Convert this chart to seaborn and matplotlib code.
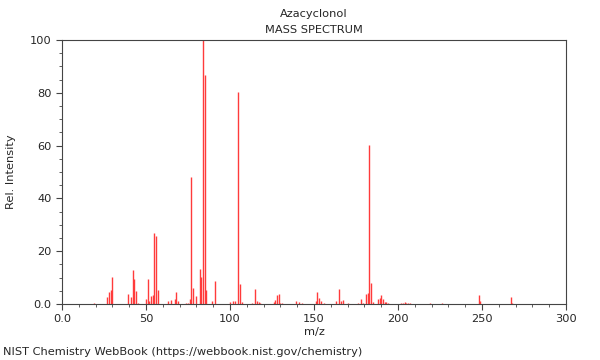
import matplotlib
matplotlib.use("Agg")
import matplotlib.pyplot as plt
import seaborn as sns
import numpy as np
from matplotlib.ticker import MultipleLocator

compound = "Azacyclonol"

# m/z values and relative intensities
mz = [19, 27, 28, 29, 30, 39, 41, 42, 43, 44, 45,
      50, 51, 52, 53, 54, 55, 56, 57, 63, 65, 67, 68, 69,
      74, 75, 76, 77, 78, 80, 82, 83, 84, 85, 86, 89, 91,
      100, 102, 103, 105, 106, 107, 113, 115, 116, 117, 118,
      126, 127, 128, 129, 130, 131, 139, 141, 143,
      151, 152, 153, 154, 156, 163, 165, 166, 167, 170, 176,
      178, 179, 181, 182, 183, 184, 185, 188, 189, 190, 191,
      192, 193, 194, 202, 203, 204, 205, 206, 207, 219, 226,
      248, 249, 267, 268]
intensity = [0.5, 2.5, 4.7, 5.3, 10.1, 3.8, 2.5, 12.8, 9.6, 5.0, 0.5,
             2.0, 9.3, 1.2, 3.0, 3.3, 27.0, 25.7, 5.3, 1.3, 1.5, 2.0, 4.6, 1.0,
             0.4, 0.5, 2.0, 48.0, 6.2, 2.9, 13.3, 10.4, 100.0, 86.8, 5.4, 1.0, 8.8,
             0.8, 1.2, 1.0, 80.3, 7.6, 0.6, 0.3, 5.7, 1.0, 0.8, 0.3,
             0.7, 1.6, 3.4, 3.8, 0.5, 0.3, 1.2, 0.6, 0.4,
             1.2, 4.7, 2.2, 1.0, 0.4, 1.0, 5.7, 1.0, 1.4, 0.5, 0.4,
             1.8, 0.5, 3.8, 4.0, 60.3, 7.8, 0.6, 1.7, 2.3, 3.4, 1.9,
             0.8, 0.6, 0.5, 0.5, 0.5, 0.6, 0.5, 0.4, 0.3, 0.3, 0.3,
             3.3, 1.3, 2.8, 0.4]

sns.set_style("ticks")
plt.rcParams['font.family'] = ['DejaVu Sans']
fs = 8.2

fig = plt.figure(figsize=(6, 3.6), dpi=100)
ax = fig.add_axes([0.1033, 0.1556, 0.84, 0.7333])

ax.vlines(mz, 0, intensity, color="#ff3b3b", linewidth=1.0)

ax.set_xlim(0, 300)
ax.set_ylim(0, 100)
ax.xaxis.set_minor_locator(MultipleLocator(10))
ax.yaxis.set_minor_locator(MultipleLocator(5))
ax.set_xticks([0, 50, 100, 150, 200, 250, 300])
ax.set_xticklabels(["0.0", "50", "100", "150", "200", "250", "300"])
ax.set_yticks([0, 20, 40, 60, 80, 100])
ax.set_yticklabels(["0.0", "20", "40", "60", "80", "100"])
ax.tick_params(which="major", length=4, width=0.8, color="#444444", labelsize=fs)
ax.tick_params(which="minor", length=2, width=0.6, color="#444444")
for s in ax.spines.values():
    s.set_color("#444444")
    s.set_linewidth(0.8)

ax.set_xlabel("m/z", fontsize=fs, labelpad=2)
ax.set_ylabel("Rel. Intensity", fontsize=fs, labelpad=10)
ax.set_title(compound + "\nMASS SPECTRUM", fontsize=fs, linespacing=1.75, pad=5)

fig.text(0.005, 0.013, "NIST Chemistry WebBook (https://webbook.nist.gov/chemistry)", fontsize=fs)

fig.savefig("out.png", dpi=100)
